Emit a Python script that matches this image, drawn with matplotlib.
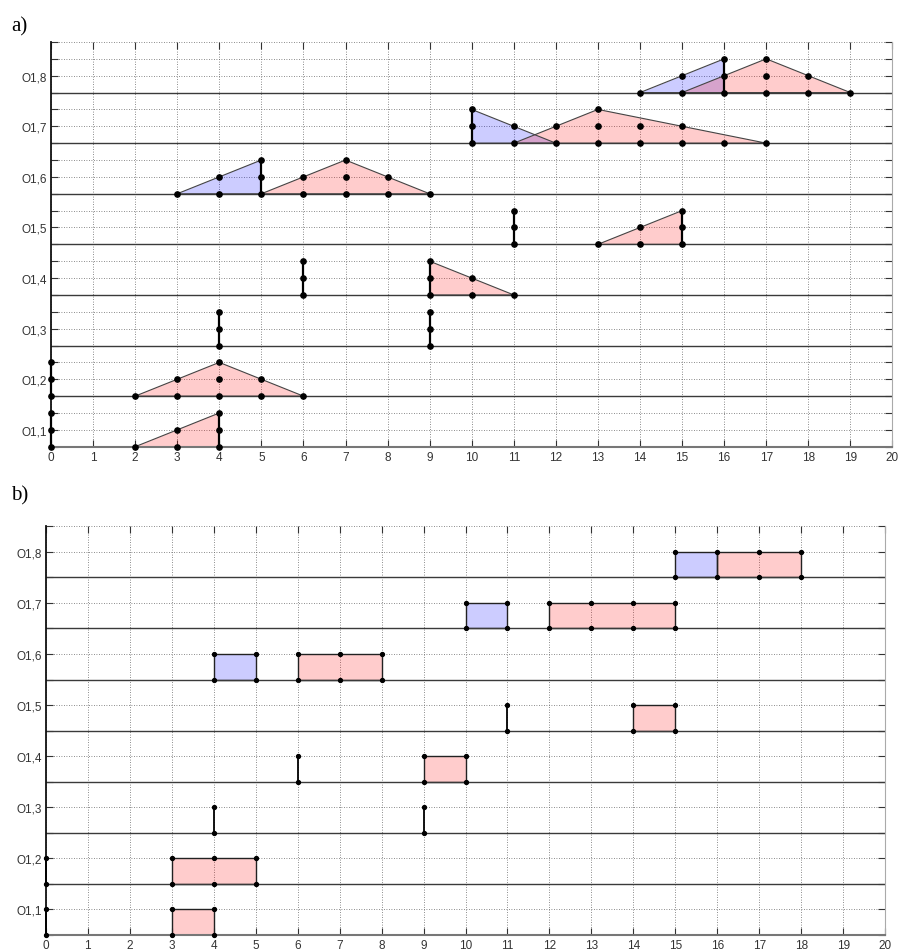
import matplotlib
matplotlib.use("Agg")
import matplotlib.pyplot as plt
from matplotlib.patches import Polygon, Rectangle

row_labels = ['O1,1', 'O1,2', 'O1,3', 'O1,4', 'O1,5', 'O1,6', 'O1,7', 'O1,8']
x_ticks = list(range(21))

# ---------- panel a: triangles (row index, colour, vertex x, vertex heights) ----------
a_tri_row = [0, 1, 3, 4, 5, 5, 6, 6, 7, 7]
a_tri_col = ['r', 'r', 'r', 'r', 'b', 'r', 'b', 'r', 'b', 'r']
a_tri_x = [[2, 4, 4], [2, 4, 6], [9, 9, 11], [13, 15, 15], [3, 5, 5],
           [5, 7, 9], [10, 10, 12], [11, 13, 17], [14, 16, 16], [15, 17, 19]]
a_tri_h = [[0, 0, 2], [0, 2, 0], [0, 2, 0], [0, 0, 2], [0, 0, 2],
           [0, 2, 0], [0, 2, 0], [0, 2, 0], [0, 0, 2], [0, 2, 0]]
# vertical black strokes (row, x), height 0..2
a_vert_row = [0, 0, 1, 2, 2, 3, 3, 4, 4, 5, 6, 7]
a_vert_x = [0, 4, 0, 4, 9, 6, 9, 11, 15, 5, 10, 16]
# dot columns (row, x, top level)
a_dot_row = [0, 0, 0, 0,
             1, 1, 1, 1, 1, 1,
             2, 2,
             3, 3, 3, 3,
             4, 4, 4, 4,
             5, 5, 5, 5, 5, 5, 5,
             6, 6, 6, 6, 6, 6, 6, 6,
             7, 7, 7, 7, 7, 7]
a_dot_x = [0, 2, 3, 4,
           0, 2, 3, 4, 5, 6,
           4, 9,
           6, 9, 10, 11,
           11, 13, 14, 15,
           3, 4, 5, 6, 7, 8, 9,
           10, 11, 12, 13, 14, 15, 16, 17,
           14, 15, 16, 17, 18, 19]
a_dot_top = [2, 0, 1, 2,
             2, 0, 1, 2, 1, 0,
             2, 2,
             2, 2, 1, 0,
             2, 0, 1, 2,
             0, 1, 2, 1, 2, 1, 0,
             2, 1, 1, 2, 1, 1, 0, 0,
             0, 1, 2, 2, 1, 0]

# ---------- panel b: rectangles (row index, colour, x start, x end), height 1 ----------
b_rect_row = [0, 1, 3, 4, 5, 5, 6, 6, 7, 7]
b_rect_col = ['r', 'r', 'r', 'r', 'b', 'r', 'b', 'r', 'b', 'r']
b_rect_x0 = [3, 3, 9, 14, 4, 6, 10, 12, 15, 16]
b_rect_x1 = [4, 5, 10, 15, 5, 8, 11, 15, 16, 18]
b_vert_row = [0, 1, 2, 2, 3, 4]
b_vert_x = [0, 0, 4, 9, 6, 11]
b_dot_row = [0, 0, 0, 1, 1, 1, 1, 2, 2, 3, 3, 3, 4, 4, 4,
             5, 5, 5, 5, 5, 6, 6, 6, 6, 6, 6, 7, 7, 7, 7]
b_dot_x = [0, 3, 4, 0, 3, 4, 5, 4, 9, 6, 9, 10, 11, 14, 15,
           4, 5, 6, 7, 8, 10, 11, 12, 13, 14, 15, 15, 16, 17, 18]

COL = {'r': (1.0, 0.0, 0.0), 'b': (0.0, 0.0, 1.0)}
ALPHA = 0.2

fig = plt.figure(figsize=(9.01, 9.53), dpi=100)
ax_a = fig.add_axes([0.0566, 0.5302, 0.9339, 0.4247])
ax_b = fig.add_axes([0.0507, 0.0178, 0.9319, 0.4289])


def style_axes(ax, per_row):
    n = per_row * len(row_labels)
    ax.set_xlim(0, 20)
    ax.set_ylim(0, n)
    ax.set_xticks(x_ticks)
    ax.set_xticklabels([str(v) for v in x_ticks])
    ax.set_yticks(range(n + 1))
    labs = []
    for i in range(n + 1):
        k, r = divmod(i, per_row)
        labs.append(row_labels[k] if (r == 1 and k < len(row_labels)) else '')
    ax.set_yticklabels(labs)
    ax.tick_params(direction='in', length=5, width=0.8, top=True, right=True,
                   labelsize=8.5, colors='#333333', pad=3)
    for lab in ax.get_xticklabels() + ax.get_yticklabels():
        lab.set_fontfamily('Liberation Sans')
    ax.grid(True, linestyle=(0, (1, 2)), color='#666666', linewidth=0.6)
    ax.set_axisbelow(True)
    ax.spines['top'].set_visible(False)
    ax.spines['right'].set_color('#aaaaaa')
    ax.spines['left'].set_color('#111111')
    ax.spines['left'].set_linewidth(1.3)
    ax.spines['bottom'].set_color('#777777')
    ax.spines['bottom'].set_linewidth(1.5)
    for k in range(1, len(row_labels)):
        ax.axhline(k * per_row, color='#3a3a3a', linewidth=1.0, zorder=2)


# ---- panel a ----
PA = 3
style_axes(ax_a, PA)
for r, c, xs, hs in zip(a_tri_row, a_tri_col, a_tri_x, a_tri_h):
    pts = [(x, r * PA + h) for x, h in zip(xs, hs)]
    ax_a.add_patch(Polygon(pts, closed=True, facecolor=COL[c], alpha=ALPHA,
                           edgecolor='none', zorder=1.5))
    ax_a.add_patch(Polygon(pts, closed=True, fill=False, edgecolor='#444444',
                           linewidth=0.8, zorder=1.6))
for r, x in zip(a_vert_row, a_vert_x):
    ax_a.plot([x, x], [r * PA, r * PA + 2], color='black', linewidth=1.6,
              zorder=3, clip_on=False)
for r, x, t in zip(a_dot_row, a_dot_x, a_dot_top):
    ys = [r * PA + lv for lv in range(t + 1)]
    ax_a.plot([x] * len(ys), ys, 'o', color='black', markersize=3.8,
              linestyle='none', zorder=4, clip_on=False)

# ---- panel b ----
PB = 2
style_axes(ax_b, PB)
for r, c, x0, x1 in zip(b_rect_row, b_rect_col, b_rect_x0, b_rect_x1):
    ax_b.add_patch(Rectangle((x0, r * PB), x1 - x0, 1, facecolor=COL[c],
                             alpha=ALPHA, edgecolor='none', zorder=1.5))
    ax_b.add_patch(Rectangle((x0, r * PB), x1 - x0, 1, fill=False,
                             edgecolor='#222222', linewidth=1.0, zorder=1.6))
for r, x in zip(b_vert_row, b_vert_x):
    ax_b.plot([x, x], [r * PB, r * PB + 1], color='black', linewidth=1.3,
              zorder=3, clip_on=False)
for r, x in zip(b_dot_row, b_dot_x):
    ax_b.plot([x, x], [r * PB, r * PB + 1], 'o', color='black', markersize=2.8,
              linestyle='none', zorder=4, clip_on=False)

fig.text(11 / 901, 1 - 31 / 953, 'a)', fontsize=15, family='Liberation Serif',
         ha='left', va='baseline')
fig.text(11 / 901, 1 - 500 / 953, 'b)', fontsize=15, family='Liberation Serif',
         ha='left', va='baseline')

fig.savefig('out.png', dpi=100)
